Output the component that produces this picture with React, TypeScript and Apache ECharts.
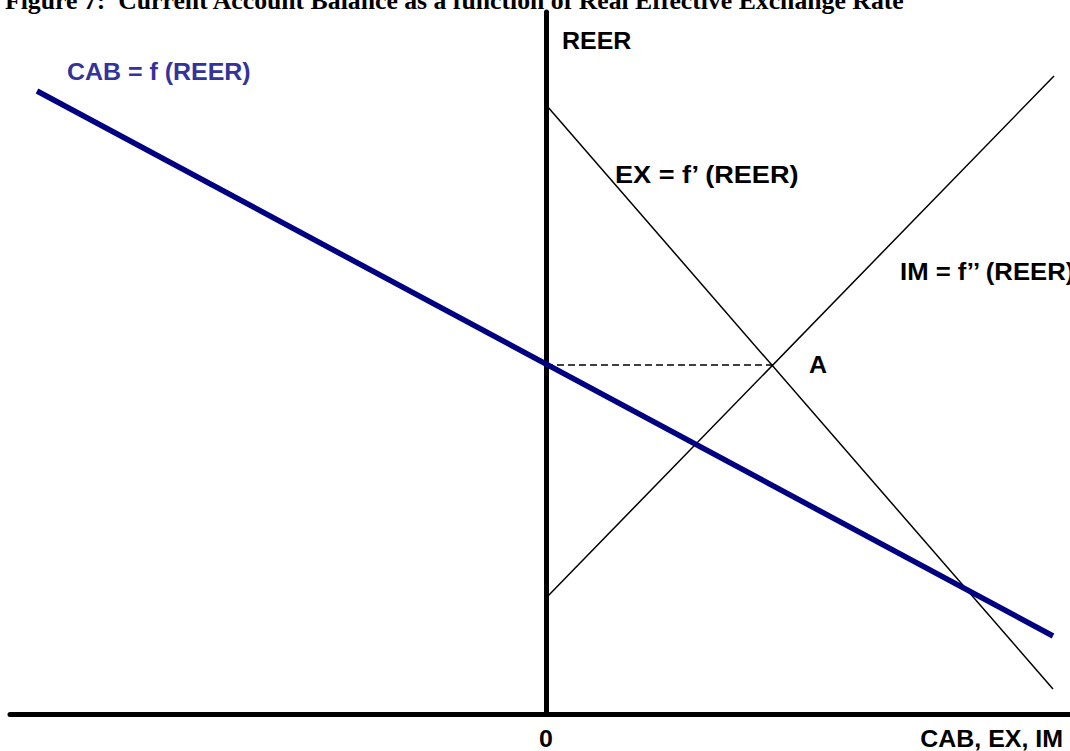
import React, { useEffect, useRef } from "react";
import * as echarts from "echarts";

// Data (abstract units: 1 unit ≈ 100 px)
const cabLine: [number, number][] = [[-5.09, 6.23], [5.07, 0.78]];
const exLine: [number, number][] = [[0.01, 6.08], [5.07, 0.25]];
const imLine: [number, number][] = [[0.01, 1.17], [5.08, 6.38]];
const pointA: [number, number] = [2.27, 3.49];
const dashLine: [number, number][] = [[0, pointA[1]], pointA];

const titleText = "Figure 7:  Current Account Balance as a function of Real Effective Exchange Rate";
const xAxisName = "CAB, EX, IM";
const yAxisName = "REER";
const zeroLabel = "0";
const cabLabel = "CAB = f (REER)";
const exLabel = "EX = f\u2019 (REER)";
const imLabel = "IM = f\u2019\u2019 (REER)";
const aLabel = "A";

export default function App() {
  const ref = useRef<HTMLDivElement>(null);
  useEffect(() => {
    document.body.style.margin = "0";
    if (!ref.current) return;
    const chart = echarts.init(ref.current, null, { renderer: "svg" });
    const sans = "'Liberation Sans', Arial, sans-serif";
    const label = (text: string, x: number, y: number, color = "#000", align = "left", sx = 1.04) => ({
      type: "text",
      x,
      y,
      scaleX: sx,
      style: {
        text,
        fill: color,
        font: `bold 24px ${sans}`,
        textAlign: align,
        textVerticalAlign: "middle",
      },
      z: 10,
    });
    chart.setOption({
      animation: false,
      backgroundColor: "#fff",
      grid: { left: 10, right: 0, top: 12, bottom: 37, containLabel: false },
      xAxis: {
        type: "value",
        min: -5.36,
        max: 5.24,
        axisLine: { show: true, onZero: true, lineStyle: { color: "#000", width: 5 } },
        axisTick: { show: false },
        axisLabel: { show: false },
        splitLine: { show: false },
      },
      yAxis: {
        type: "value",
        min: 0,
        max: 7.02,
        axisLine: { show: true, onZero: true, lineStyle: { color: "#000", width: 5 } },
        axisTick: { show: false },
        axisLabel: { show: false },
        splitLine: { show: false },
      },
      series: [
        {
          type: "line",
          data: dashLine,
          symbol: "none",
          lineStyle: { color: "#000", width: 1.5, type: [7, 4] },
          z: 2,
        },
        {
          type: "line",
          data: exLine,
          symbol: "none",
          lineStyle: { color: "#000", width: 1.5 },
          z: 3,
        },
        {
          type: "line",
          data: imLine,
          symbol: "none",
          lineStyle: { color: "#000", width: 1.5 },
          z: 3,
        },
        {
          type: "line",
          data: cabLine,
          symbol: "none",
          lineStyle: { color: "#000080", width: 5.5, cap: "butt" },
          z: 4,
        },
      ],
      graphic: [
        {
          type: "text",
          x: 5,
          y: 0,
          scaleX: 0.99,
          style: {
            text: titleText,
            fill: "#000",
            font: "bold 26px 'Liberation Serif', 'Times New Roman', serif",
            textAlign: "left",
            textVerticalAlign: "middle",
          },
          z: 10,
        },
        label(yAxisName, 562, 41),
        label(cabLabel, 67, 72, "#333399"),
        label(exLabel, 615, 175, "#000", "left", 1.13),
        label(imLabel, 900, 272, "#000", "left", 1.07),
        label(aLabel, 809, 365),
        label(zeroLabel, 546, 739, "#000", "center"),
        label(xAxisName, 1063, 739, "#000", "right"),
      ],
    });
    return () => chart.dispose();
  }, []);
  return <div ref={ref} style={{ width: 1070, height: 751 }} />;
}
